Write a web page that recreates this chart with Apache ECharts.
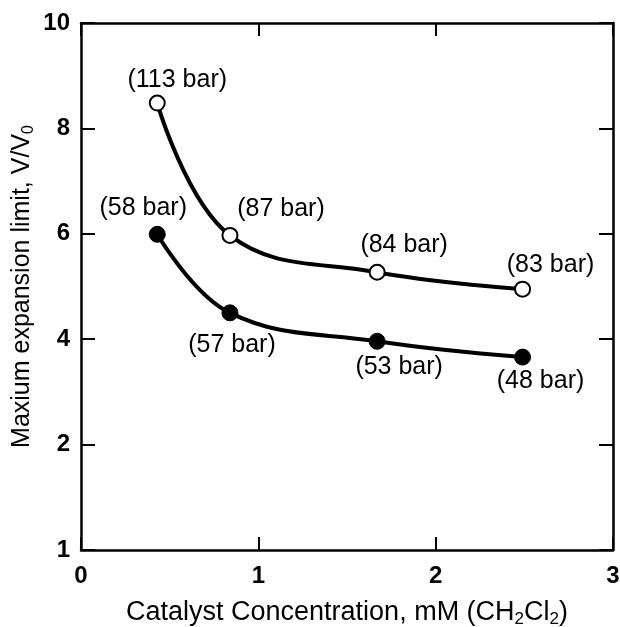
<!DOCTYPE html>
<html>
<head>
<meta charset="utf-8">
<script src="https://cdn.jsdelivr.net/npm/echarts@6/dist/echarts.min.js"></script>
<style>
  html, body { margin: 0; padding: 0; background: #fff; }
  #main { width: 620px; height: 627px; }
</style>
</head>
<body>
<div id="main"></div>
<script>
// catalyst concentration, mM
var openX = [0.43, 0.84, 1.67, 2.49];
var openY = [8.48, 5.97, 5.27, 4.95];
var openTags = ['(113 bar)', '(87 bar)', '(84 bar)', '(83 bar)'];

var filledX = [0.43, 0.84, 1.67, 2.49];
var filledY = [5.99, 4.50, 3.96, 3.66];
var filledTags = ['(58 bar)', '(57 bar)', '(53 bar)', '(48 bar)'];

var yTicks = [0, 2, 4, 6, 8, 10];
var yTickText = ['1', '2', '4', '6', '8', '10'];

// where each tag sits next to its point
var openPlace = [['top', [20, 3]], ['top', [51, 0]], ['top', [27, -1]], ['top', [28, 2]]];
var filledPlace = [['top', [-14, 0]], ['bottom', [2, 6]], ['bottom', [22, 0]], ['bottom', [18, -2]]];

var font = 'Liberation Sans, Arial, Helvetica, sans-serif';

function build(xs, ys, tags, place) {
  return xs.map(function (x, i) {
    return {
      value: [x, ys[i]],
      label: {
        show: true,
        formatter: tags[i],
        position: place[i][0],
        offset: place[i][1]
      }
    };
  });
}

var chart = echarts.init(document.getElementById('main'));

var axisLine = { show: true, onZero: false, lineStyle: { color: '#000', width: 2.5 } };
var tick = function (len) {
  return { show: true, inside: true, length: len, lineStyle: { color: '#000', width: 2 } };
};

chart.setOption({
  animation: false,
  grid: { left: 81, right: 7, top: 23, bottom: 77, outerBoundsMode: 'none', containLabel: false },
  xAxis: [
    {
      type: 'value', min: 0, max: 3, interval: 1,
      axisLine: axisLine,
      axisTick: tick(13),
      splitLine: { show: false },
      axisLabel: { color: '#000', fontFamily: font, fontWeight: 'bold', fontSize: 24, margin: 14 },
      name: 'Catalyst Concentration, mM (CH{s|2}Cl{s|2})',
      nameLocation: 'middle',
      nameGap: 47,
      nameTextStyle: {
        color: '#000', fontFamily: font, fontSize: 27,
        rich: { s: { fontFamily: font, fontSize: 17, color: '#000', verticalAlign: 'bottom', padding: [14, 0, 0, 0] } }
      }
    },
    {
      type: 'value', min: 0, max: 3, interval: 1, position: 'top',
      axisLine: axisLine,
      axisTick: tick(13),
      axisLabel: { show: false },
      splitLine: { show: false }
    }
  ],
  yAxis: [
    {
      type: 'value', min: 0, max: 10, interval: 2,
      axisLine: axisLine,
      axisTick: tick(14),
      splitLine: { show: false },
      axisLabel: {
        color: '#000', fontFamily: font, fontWeight: 'bold', fontSize: 24, margin: 11,
        formatter: function (v) { return yTickText[yTicks.indexOf(v)]; }
      },
      name: 'Maxium expansion limit, V/V{s|0}',
      nameLocation: 'middle',
      nameGap: 44,
      nameMoveOverlap: false,
      nameTextStyle: {
        color: '#000', fontFamily: font, fontSize: 25,
        rich: { s: { fontFamily: font, fontSize: 16, color: '#000', verticalAlign: 'bottom', padding: [13, 0, 0, 0] } }
      }
    },
    {
      type: 'value', min: 0, max: 10, interval: 2, position: 'right',
      axisLine: axisLine,
      axisTick: tick(14),
      axisLabel: { show: false },
      splitLine: { show: false }
    }
  ],
  series: [
    {
      type: 'line',
      data: build(openX, openY, openTags, openPlace),
      smooth: 0.4,
      symbol: 'circle',
      symbolSize: 15,
      lineStyle: { color: '#000', width: 4 },
      itemStyle: { color: '#fff', borderColor: '#000', borderWidth: 2 },
      label: { color: '#000', fontFamily: font, fontSize: 25 },
      z: 3
    },
    {
      type: 'line',
      data: build(filledX, filledY, filledTags, filledPlace),
      smooth: 0.4,
      symbol: 'circle',
      symbolSize: 16,
      lineStyle: { color: '#000', width: 4 },
      itemStyle: { color: '#000', borderColor: '#000', borderWidth: 1 },
      label: { color: '#000', fontFamily: font, fontSize: 25 },
      z: 3
    }
  ]
});
</script>
</body>
</html>
